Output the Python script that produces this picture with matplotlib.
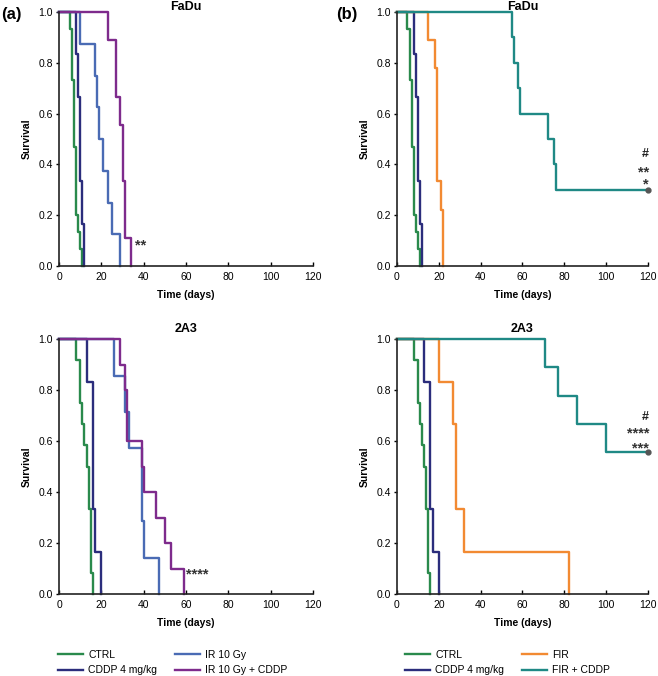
import matplotlib.pyplot as plt

plt.rcParams['font.family'] = ['Liberation Sans', 'DejaVu Sans']

# FaDu, panel (a) and (b) share CTRL / CDDP
fadu_ctrl_t = [0, 5, 6, 7, 8, 9, 10, 11]
fadu_ctrl_s = [1, 14/15, 11/15, 7/15, 3/15, 2/15, 1/15, 0]
fadu_cddp_t = [0, 8, 9, 10, 11, 12]
fadu_cddp_s = [1, 5/6, 4/6, 2/6, 1/6, 0]
fadu_ir_t = [0, 10, 17, 18, 19, 21, 23, 25, 29]
fadu_ir_s = [1, 7/8, 6/8, 5/8, 4/8, 3/8, 2/8, 1/8, 0]
fadu_ircddp_t = [0, 23, 27, 29, 30, 31, 34]
fadu_ircddp_s = [1, 8/9, 6/9, 5/9, 3/9, 1/9, 0]
fadu_fir_t = [0, 15, 18, 19, 21, 22]
fadu_fir_s = [1, 8/9, 7/9, 3/9, 2/9, 0]
fadu_fircddp_t = [0, 55, 56, 58, 59, 72, 75, 76, 120]
fadu_fircddp_s = [1, 0.9, 0.8, 0.7, 0.6, 0.5, 0.4, 0.3, 0.3]

# 2A3
a3_ctrl_t = [0, 8, 10, 11, 12, 13, 14, 15, 16]
a3_ctrl_s = [1, 11/12, 9/12, 8/12, 7/12, 6/12, 4/12, 1/12, 0]
a3_cddp_t = [0, 13, 16, 17, 20]
a3_cddp_s = [1, 5/6, 2/6, 1/6, 0]
a3_ir_t = [0, 26, 31, 33, 39, 40, 47]
a3_ir_s = [1, 6/7, 5/7, 4/7, 2/7, 1/7, 0]
a3_ircddp_t = [0, 29, 31, 32, 39, 40, 46, 50, 53, 59]
a3_ircddp_s = [1, 0.9, 0.8, 0.6, 0.5, 0.4, 0.3, 0.2, 0.1, 0]
a3_fir_t = [0, 20, 27, 28, 32, 82]
a3_fir_s = [1, 5/6, 4/6, 2/6, 1/6, 0]
a3_fircddp_t = [0, 71, 77, 86, 100, 120]
a3_fircddp_s = [1, 8/9, 7/9, 6/9, 5/9, 5/9]

c_ctrl = '#2a8a4c'
c_cddp = '#2b2d7c'
c_ir = '#4a6bb4'
c_ircddp = '#7e2b8c'
c_fir = '#f28a32'
c_fircddp = '#1f8985'

fig = plt.figure(figsize=(6.58, 6.76), dpi=100)
axA1 = fig.add_axes([0.0897, 0.6065, 0.386, 0.3757])
axA2 = fig.add_axes([0.0897, 0.1213, 0.386, 0.377])
axB1 = fig.add_axes([0.6033, 0.6065, 0.3815, 0.3757])
axB2 = fig.add_axes([0.6033, 0.1213, 0.3815, 0.377])

lw = 1.7
fs = 7.5
star = dict(fontsize=10.5, fontweight='bold', color='#333333', va='center')


def style(ax, title, ty):
    ax.set_xlim(0, 120)
    ax.set_ylim(0, 1.0)
    ax.set_xticks(range(0, 121, 20))
    ax.set_yticks([0, 0.2, 0.4, 0.6, 0.8, 1.0])
    ax.set_yticklabels(['0.0', '0.2', '0.4', '0.6', '0.8', '1.0'])
    for s in ['top', 'right']:
        ax.spines[s].set_visible(False)
    for s in ['left', 'bottom']:
        ax.spines[s].set_linewidth(1.2)
        ax.spines[s].set_color('#222222')
    ax.tick_params(axis='x', direction='in', length=3, width=1, labelsize=fs, pad=4)
    ax.tick_params(axis='y', direction='out', length=2.5, width=1, labelsize=fs, pad=2)
    ax.set_xlabel('Time (days)', fontsize=fs, fontweight='bold', labelpad=6)
    ax.set_ylabel('Survival', fontsize=fs, fontweight='bold', labelpad=5)
    ax.text(0.5, ty, title, transform=ax.transAxes, fontsize=9, fontweight='bold',
            ha='center', va='baseline')


def km(ax, t, s, c, label):
    return ax.step(t, s, where='post', color=c, lw=lw, label=label, clip_on=False)[0]


# (a) FaDu
km(axA1, fadu_ctrl_t, fadu_ctrl_s, c_ctrl, 'CTRL')
km(axA1, fadu_cddp_t, fadu_cddp_s, c_cddp, 'CDDP 4 mg/kg')
km(axA1, fadu_ir_t, fadu_ir_s, c_ir, 'IR 10 Gy')
km(axA1, fadu_ircddp_t, fadu_ircddp_s, c_ircddp, 'IR 10 Gy + CDDP')
axA1.text(36, 0.08, '**', **star)
style(axA1, 'FaDu', 1.007)

# (a) 2A3
h1 = km(axA2, a3_ctrl_t, a3_ctrl_s, c_ctrl, 'CTRL')
h2 = km(axA2, a3_cddp_t, a3_cddp_s, c_cddp, 'CDDP 4 mg/kg')
h3 = km(axA2, a3_ir_t, a3_ir_s, c_ir, 'IR 10 Gy')
h4 = km(axA2, a3_ircddp_t, a3_ircddp_s, c_ircddp, 'IR 10 Gy + CDDP')
axA2.text(60, 0.075, '****', **star)
style(axA2, '2A3', 1.027)

# (b) FaDu
km(axB1, fadu_ctrl_t, fadu_ctrl_s, c_ctrl, 'CTRL')
km(axB1, fadu_cddp_t, fadu_cddp_s, c_cddp, 'CDDP 4 mg/kg')
km(axB1, fadu_fir_t, fadu_fir_s, c_fir, 'FIR')
km(axB1, fadu_fircddp_t, fadu_fircddp_s, c_fircddp, 'FIR + CDDP')
axB1.plot([120], [fadu_fircddp_s[-1]], 'o', color='#555555', ms=3.5, clip_on=False)
axB1.text(120.5, 0.44, '#', fontsize=9, fontweight='bold', color='#222222', ha='right', va='center')
axB1.text(120.5, 0.37, '**', ha='right', **star)
axB1.text(120.5, 0.32, '*', ha='right', **star)
style(axB1, 'FaDu', 1.007)

# (b) 2A3
g1 = km(axB2, a3_ctrl_t, a3_ctrl_s, c_ctrl, 'CTRL')
g2 = km(axB2, a3_cddp_t, a3_cddp_s, c_cddp, 'CDDP 4 mg/kg')
g3 = km(axB2, a3_fir_t, a3_fir_s, c_fir, 'FIR')
g4 = km(axB2, a3_fircddp_t, a3_fircddp_s, c_fircddp, 'FIR + CDDP')
axB2.plot([120], [a3_fircddp_s[-1]], 'o', color='#555555', ms=3.5, clip_on=False)
axB2.text(120.5, 0.695, '#', fontsize=9, fontweight='bold', color='#222222', ha='right', va='center')
axB2.text(120.5, 0.628, '****', ha='right', **star)
axB2.text(120.5, 0.573, '***', ha='right', **star)
style(axB2, '2A3', 1.027)

# legends
leg_kw = dict(loc='upper left', ncol=2, frameon=False, fontsize=7.5, handlelength=2.4,
              handletextpad=0.5, columnspacing=1.7, labelspacing=0.5, borderpad=0)
fig.legend([h1, h2, h3, h4], ['CTRL', 'CDDP 4 mg/kg', 'IR 10 Gy', 'IR 10 Gy + CDDP'],
           bbox_to_anchor=(0.08, 0.046), **leg_kw)
fig.legend([g1, g2, g3, g4], ['CTRL', 'CDDP 4 mg/kg', 'FIR', 'FIR + CDDP'],
           bbox_to_anchor=(0.608, 0.046), **leg_kw)

fig.text(0.002, 0.99, '(a)', fontsize=12, fontweight='bold', va='top')
fig.text(0.511, 0.99, '(b)', fontsize=12, fontweight='bold', va='top')

fig.savefig('out.png', dpi=100)
